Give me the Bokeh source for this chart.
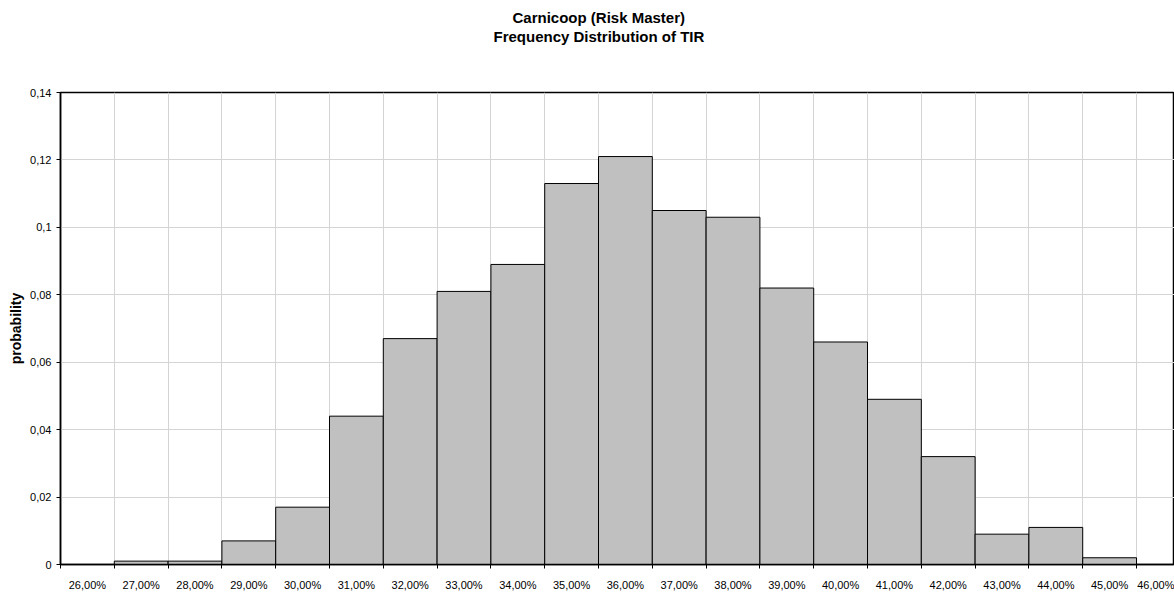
from bokeh.plotting import figure
from bokeh.models import FixedTicker, Range1d, Title, ColumnDataSource
from bokeh.embed import file_html
from bokeh.resources import INLINE

# ---- data ----
categories = ["26,00%", "27,00%", "28,00%", "29,00%", "30,00%", "31,00%", "32,00%",
              "33,00%", "34,00%", "35,00%", "36,00%", "37,00%", "38,00%", "39,00%",
              "40,00%", "41,00%", "42,00%", "43,00%", "44,00%", "45,00%", "46,00%"]
probability = [0.0, 0.001, 0.001, 0.007, 0.017, 0.044, 0.067, 0.081, 0.089, 0.113,
               0.121, 0.105, 0.103, 0.082, 0.066, 0.049, 0.032, 0.009, 0.011, 0.002, 0.0]
y_ticks = [0, 0.02, 0.04, 0.06, 0.08, 0.10, 0.12, 0.14]
y_tick_labels = ["0", "0,02", "0,04", "0,06", "0,08", "0,1", "0,12", "0,14"]

FONT = "Liberation Sans"

idx = list(range(len(categories)))
src = ColumnDataSource(dict(
    left=[i for i in idx], right=[i + 1 for i in idx],
    top=probability, bottom=[0] * len(idx),
))

p = figure(width=1174, height=594, output_backend="svg", toolbar_location=None,
           x_range=Range1d(0, 20.706), y_range=Range1d(0, 0.14),
           min_border_left=60, min_border_right=0, min_border_top=92, min_border_bottom=30)

p.quad(left="left", right="right", top="top", bottom="bottom", source=src,
       fill_color="#c0c0c0", line_color="black", line_width=1)

# x axis: labels centred in the category cells, ticks at boundaries
centers = [i + 0.5 for i in idx]
bounds = list(range(len(categories) + 1))
xa = p.xaxis[0]
xa.ticker = FixedTicker(ticks=centers, minor_ticks=bounds)
xa.major_label_overrides = {c: lab for c, lab in zip(centers, categories)}
xa.major_tick_out = 0
xa.major_tick_in = 0
xa.minor_tick_out = 4
xa.minor_tick_in = 0
xa.minor_tick_line_color = "black"
xa.axis_line_color = "black"
xa.axis_line_width = 1.5
xa.major_label_text_font = FONT
xa.major_label_text_font_size = "11px"
xa.major_label_text_color = "black"
xa.major_label_standoff = 10

ya = p.yaxis[0]
ya.ticker = FixedTicker(ticks=y_ticks, minor_ticks=[])
ya.major_label_overrides = {t: lab for t, lab in zip(y_ticks, y_tick_labels)}
ya.major_tick_out = 4
ya.major_tick_in = 0
ya.major_tick_line_color = "black"
ya.axis_line_color = "black"
ya.axis_line_width = 1.5
ya.major_label_text_font = FONT
ya.major_label_text_font_size = "11px"
ya.major_label_text_color = "black"
ya.major_label_standoff = 5
ya.axis_label = "probability"
ya.axis_label_text_font = FONT
ya.axis_label_text_font_size = "14px"
ya.axis_label_text_font_style = "bold"
ya.axis_label_text_color = "black"
ya.axis_label_standoff = 3

p.xgrid[0].ticker = FixedTicker(ticks=bounds, minor_ticks=[])
p.xgrid[0].grid_line_color = "#d4d4d4"
p.ygrid[0].grid_line_color = "#d4d4d4"
p.xgrid[0].level = "underlay"
p.ygrid[0].level = "underlay"

p.outline_line_color = "black"
p.outline_line_width = 1.5
p.background_fill_color = "white"
p.border_fill_color = "white"

spacer = Title(text=" ", text_font=FONT, text_font_size="15px", standoff=29)
t2 = Title(text="Frequency Distribution of TIR", align="left", offset=433,
           text_font=FONT, text_font_size="15px", text_font_style="bold",
           text_color="black", standoff=0)
t1 = Title(text="Carnicoop (Risk Master)", align="left", offset=452,
           text_font=FONT, text_font_size="15px", text_font_style="bold",
           text_color="black", standoff=0)
p.add_layout(spacer, "above")
p.add_layout(t2, "above")
p.add_layout(t1, "above")

open("out.html", "w").write(file_html(p, INLINE))
